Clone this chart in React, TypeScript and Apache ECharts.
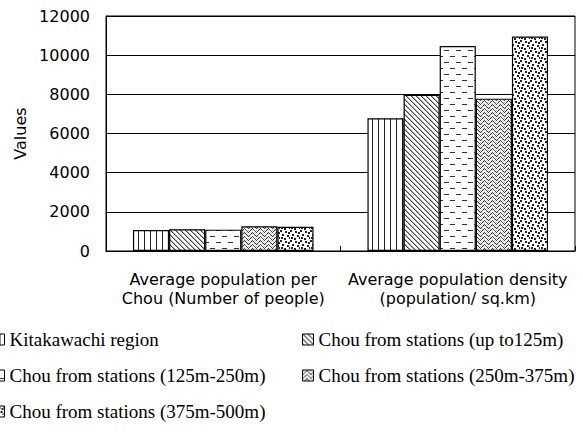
import React, { useEffect, useRef } from "react";
import * as echarts from "echarts";

// Two measures compared across the Kitakawachi region and station-distance bands
const categories = [
  "Average population per\nChou (Number of people)",
  "Average population density\n(population/ sq.km)",
];

const seriesNames = [
  "Kitakawachi region",
  "Chou from stations (up to125m)",
  "Chou from stations (125m-250m)",
  "Chou from stations (250m-375m)",
  "Chou from stations (375m-500m)",
];

const kitakawachi = [1070, 6780];
const upTo125 = [1110, 7980];
const from125to250 = [1090, 10470];
const from250to375 = [1260, 7780];
const from375to500 = [1240, 10950];

const seriesValues = [kitakawachi, upTo125, from125to250, from250to375, from375to500];

const yMin = 0;
const yMax = 12000;
const yInterval = 2000;

type Ctx = CanvasRenderingContext2D;

// Builds a small repeating tile and returns it as an ECharts image pattern
function makeTile(w: number, h: number, draw: (ctx: Ctx) => void) {
  const c = document.createElement("canvas");
  c.width = w;
  c.height = h;
  const ctx = c.getContext("2d") as Ctx;
  ctx.fillStyle = "#ffffff";
  ctx.fillRect(0, 0, w, h);
  draw(ctx);
  return {
    image: c.toDataURL(),
    repeat: "repeat",
    imageWidth: w,
    imageHeight: h,
  };
}

function buildPatterns() {
  // vertical stripes
  const vertical = makeTile(6, 6, (ctx) => {
    ctx.fillStyle = "#222";
    ctx.fillRect(0, 0, 1, 6);
  });
  // dense backslash hatching
  const diagonal = makeTile(5, 5, (ctx) => {
    for (let i = 0; i < 5; i++) {
      ctx.fillStyle = "#444";
      ctx.fillRect(i, i, 1, 1);
      ctx.fillStyle = "#aaa";
      ctx.fillRect((i + 1) % 5, i, 1, 1);
    }
  });
  // staggered dashes
  const dashes = makeTile(12, 12, (ctx) => {
    ctx.fillStyle = "#333";
    ctx.fillRect(0, 2, 5, 1);
    ctx.fillRect(6, 8, 5, 1);
  });
  // grey woven chevrons
  const weave = makeTile(8, 8, (ctx) => {
    for (let y = 0; y < 8; y++) {
      for (let x = 0; x < 8; x++) {
        const on = x < 4 ? (x + y) % 4 === 0 : (x - y + 16) % 4 === 0;
        if (on) {
          ctx.fillStyle = "#444";
          ctx.fillRect(x, y, 1, 1);
        } else if ((x + 2 * y) % 3 === 0) {
          ctx.fillStyle = "#c8c8c8";
          ctx.fillRect(x, y, 1, 1);
        }
      }
    }
  });
  // scattered dark squares
  const dots = makeTile(10, 10, (ctx) => {
    ctx.fillStyle = "#222";
    const spots = [
      [0, 0], [5, 1], [2, 4], [7, 5], [4, 8], [9, 7], [8, 2], [1, 7],
    ];
    spots.forEach(([x, y]) => ctx.fillRect(x, y, 2, 2));
  });
  return [vertical, diagonal, dashes, weave, dots];
}

const axisFont = "DejaVu Sans";
const legendFont = "Liberation Serif";

export default function App() {
  const ref = useRef<HTMLDivElement>(null);

  useEffect(() => {
    if (!ref.current) return;
    const chart = echarts.init(ref.current, null, { renderer: "svg" });
    const patterns = buildPatterns();

    const series = seriesNames.map((name, i) => ({
      name,
      type: "bar",
      data: seriesValues[i],
      barGap: "0%",
      barCategoryGap: "23%",
      itemStyle: {
        color: patterns[i],
        borderColor: "#000",
        borderWidth: 1.2,
      },
    }));

    const legendCommon = {
      orient: "vertical",
      top: 330,
      padding: 0,
      itemWidth: 11,
      itemHeight: 11,
      itemGap: 17,
      icon: "rect",
      selectedMode: false,
      itemStyle: { borderColor: "#000", borderWidth: 1 },
      textStyle: {
        fontFamily: legendFont,
        fontSize: 19,
        lineHeight: 19,
        color: "#000",
      },
    };

    chart.setOption({
      animation: false,
      backgroundColor: "#ffffff",
      grid: {
        left: 106,
        right: 8,
        top: 16,
        bottom: 181,
        show: true,
        borderColor: "#000",
        borderWidth: 1,
        containLabel: false,
        outerBoundsMode: "none",
      },
      legend: [
        {
          ...legendCommon,
          left: -7,
          data: [seriesNames[0], seriesNames[2], seriesNames[4]],
        },
        {
          ...legendCommon,
          left: 302,
          data: [seriesNames[1], seriesNames[3]],
        },
      ],
      xAxis: {
        type: "category",
        data: categories,
        axisLine: { lineStyle: { color: "#000", width: 1 } },
        axisTick: { show: true, inside: true, length: 5, lineStyle: { color: "#000" } },
        axisLabel: {
          color: "#000",
          fontFamily: axisFont,
          fontSize: 16,
          lineHeight: 19,
          margin: 19,
          interval: 0,
        },
      },
      yAxis: {
        type: "value",
        min: yMin,
        max: yMax,
        interval: yInterval,
        name: "Values",
        nameLocation: "middle",
        nameRotate: 90,
        nameGap: 76,
        nameTextStyle: { color: "#000", fontFamily: axisFont, fontSize: 16 },
        axisLine: { show: true, lineStyle: { color: "#000", width: 1 } },
        axisTick: { show: false },
        axisLabel: {
          color: "#000",
          fontFamily: axisFont,
          fontSize: 16,
          margin: 16,
          formatter: (v: number) => String(v),
        },
        splitLine: { show: true, lineStyle: { color: "#000", width: 1 } },
      },
      series,
    });

    return () => chart.dispose();
  }, []);

  return (
    <div
      ref={ref}
      style={{ position: "fixed", left: 0, top: 0, width: 583, height: 432 }}
    />
  );
}
